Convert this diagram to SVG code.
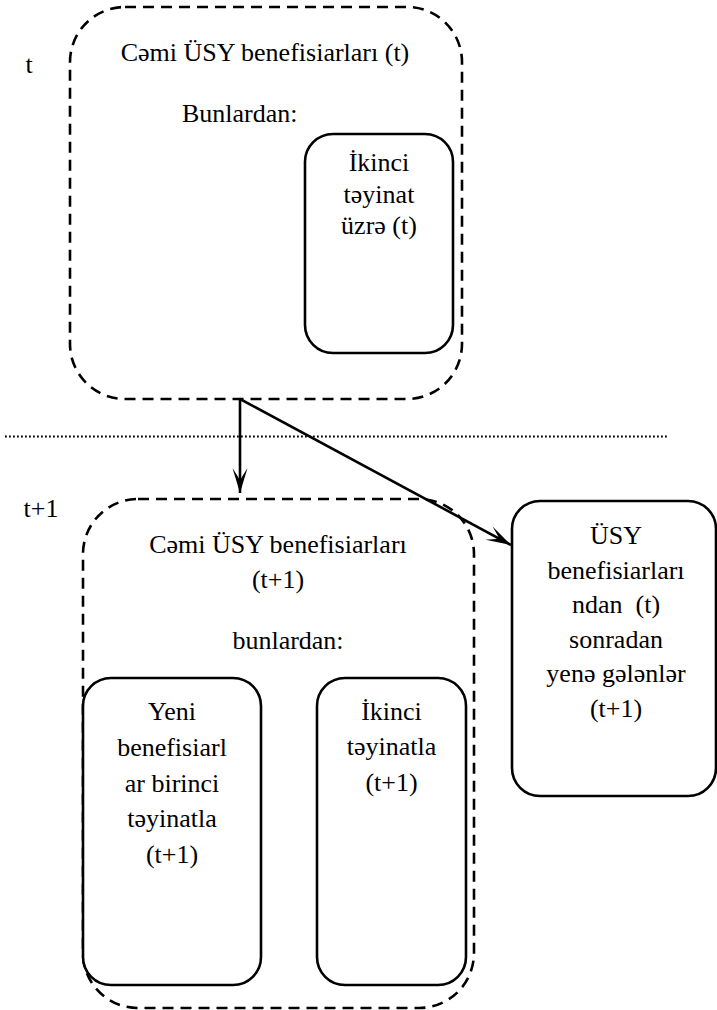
<svg xmlns="http://www.w3.org/2000/svg" width="717" height="1010" viewBox="0 0 717 1010">
<style>
text{font-family:'Liberation Serif','Times New Roman',Tinos,'DejaVu Serif',serif;font-size:26px;fill:#000;text-anchor:middle}
.dash{fill:none;stroke:#000;stroke-width:2.6;stroke-dasharray:11 7}
.solid{fill:#fff;stroke:#000;stroke-width:2.6}
.conn{fill:none;stroke:#000;stroke-width:2.6}
.dot{fill:none;stroke:#000;stroke-width:1.8;stroke-dasharray:1.8 2.2}
</style>
<defs>
<marker id="arr" markerUnits="userSpaceOnUse" viewBox="-27 -9 29 18" refX="0" refY="0" markerWidth="29" markerHeight="18" orient="auto">
<path d="M0,0 L-25,-7.5 L-13,0 L-25,7.5 Z" fill="#000"/>
</marker>
</defs>
<g font-family="Liberation Serif, serif">
<text x="29" y="73">t</text>
<text x="41" y="517">t+1</text>
</g>
<line class="dot" x1="5" y1="436.5" x2="668" y2="436.5"/>
<g id="top-total" font-family="Liberation Serif, serif">
<rect class="dash" x="70" y="7" width="392" height="392" rx="55" ry="55"/>
<text x="265" y="61">Cəmi ÜSY benefisiarları (t)</text>
<text x="182" y="122" style="text-anchor:start">Bunlardan:</text>
</g>
<g id="top-second" font-family="Liberation Serif, serif">
<rect class="solid" x="305" y="134" width="148" height="219" rx="28" ry="28"/>
<text x="379" y="171">İkinci</text>
<text x="379" y="202.5">təyinat</text>
<text x="379" y="234">üzrə (t)</text>
</g>
<g id="bottom-total" font-family="Liberation Serif, serif">
<rect class="dash" x="83" y="499" width="391" height="509" rx="55" ry="55"/>
<text x="278" y="553">Cəmi ÜSY benefisiarları</text>
<text x="278" y="588">(t+1)</text>
<text x="288" y="649">bunlardan:</text>
</g>
<g id="bottom-new" font-family="Liberation Serif, serif">
<rect class="solid" x="83" y="678" width="178" height="307" rx="28" ry="28"/>
<text x="172" y="720">Yeni</text>
<text x="172" y="756">benefisiarl</text>
<text x="172" y="791.5">ar birinci</text>
<text x="172" y="827">təyinatla</text>
<text x="172" y="862.5">(t+1)</text>
</g>
<g id="bottom-second" font-family="Liberation Serif, serif">
<rect class="solid" x="317" y="678" width="149" height="307" rx="28" ry="28"/>
<text x="391.5" y="720">İkinci</text>
<text x="391.5" y="755">təyinatla</text>
<text x="391.5" y="791">(t+1)</text>
</g>
<g id="returning" font-family="Liberation Serif, serif">
<rect class="solid" x="512" y="501" width="204" height="295" rx="28" ry="28"/>
<text x="616" y="544">ÜSY</text>
<text x="616" y="578.5">benefisiarları</text>
<text x="616" y="613" xml:space="preserve">ndan  (t)</text>
<text x="616" y="647.5">sonradan</text>
<text x="616" y="682">yenə gələnlər</text>
<text x="616" y="716.5">(t+1)</text>
</g>
<g id="connectors">
<line class="conn" x1="240" y1="399" x2="240" y2="493" marker-end="url(#arr)"/>
<line class="conn" x1="240" y1="399" x2="511" y2="545" marker-end="url(#arr)"/>
</g>
</svg>
